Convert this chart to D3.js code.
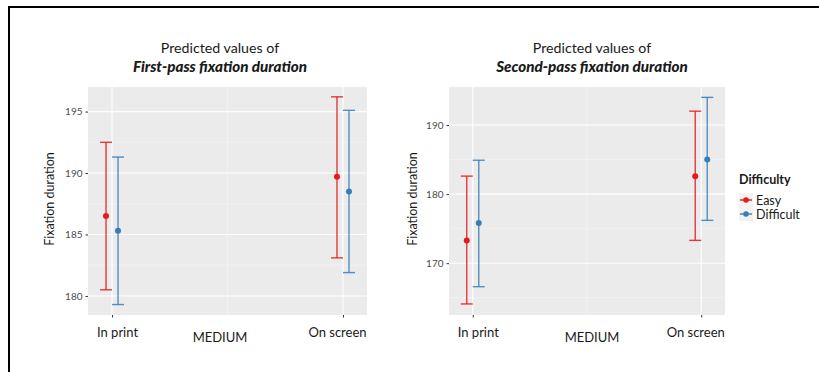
<!DOCTYPE html>
<html>
<head>
<meta charset="utf-8">
<script src="https://cdn.jsdelivr.net/npm/d3@7"></script>
<style>
  body { margin: 0; background: #fff; }
  text { font-family: Lato, "Open Sans", sans-serif; }
</style>
</head>
<body>
<div id="chart"></div>
<script>
// categories
const medium = ["In print", "On screen"];
const difficulty = ["Easy", "Difficult"];
const colors = ["#e41a1c", "#377eb8"];

// First-pass fixation duration (estimate, low, high), one value per medium
const fpEasyMean = [186.5, 189.7];
const fpEasyLow  = [180.5, 183.1];
const fpEasyHigh = [192.5, 196.2];
const fpDiffMean = [185.3, 188.5];
const fpDiffLow  = [179.3, 181.9];
const fpDiffHigh = [191.3, 195.1];

// Second-pass fixation duration
const spEasyMean = [173.3, 182.6];
const spEasyLow  = [164.1, 173.3];
const spEasyHigh = [182.6, 192.0];
const spDiffMean = [175.8, 185.0];
const spDiffLow  = [166.6, 176.2];
const spDiffHigh = [184.9, 194.0];

// axis ticks
const fpTicks = [180, 185, 190, 195];
const fpMinor = [182.5, 187.5, 192.5];
const fpDomain = [178.45, 197.0];
const spTicks = [170, 180, 190];
const spMinor = [165, 175, 185];
const spDomain = [162.5, 195.5];

const W = 819, H = 372;

const svg = d3.select("#chart")
    .append("svg")
    .attr("width", W)
    .attr("height", H);

// frame around the figure
svg.append("rect")
    .attr("x", 9)
    .attr("y", 7)
    .attr("width", W + 20)
    .attr("height", H + 20)
    .attr("fill", "none")
    .attr("stroke", "#000")
    .attr("stroke-width", 2);

function buildSeries(easy, diff) {
    return [
        medium.map((m, i) => ({ medium: m, group: 0, mean: easy[0][i], low: easy[1][i], high: easy[2][i] })),
        medium.map((m, i) => ({ medium: m, group: 1, mean: diff[0][i], low: diff[1][i], high: diff[2][i] }))
    ].flat();
}

function drawPanel(opts) {
    const g = svg.append("g");
    const x = d3.scalePoint().domain(medium).range([opts.left, opts.right]).padding(0.104);
    const y = d3.scaleLinear().domain(opts.domain).range([opts.bottom, opts.top]);

    // panel background
    g.append("rect")
        .attr("x", opts.left)
        .attr("y", opts.top)
        .attr("width", opts.right - opts.left)
        .attr("height", opts.bottom - opts.top)
        .attr("fill", "#ebebeb");

    // minor grid
    g.selectAll(".ygmin").data(opts.minor).enter().append("line")
        .attr("x1", opts.left).attr("x2", opts.right)
        .attr("y1", d => y(d)).attr("y2", d => y(d))
        .attr("stroke", "#f5f5f5").attr("stroke-width", 0.6);
    g.append("line")
        .attr("x1", (x(medium[0]) + x(medium[1])) / 2)
        .attr("x2", (x(medium[0]) + x(medium[1])) / 2)
        .attr("y1", opts.top).attr("y2", opts.bottom)
        .attr("stroke", "#f5f5f5").attr("stroke-width", 0.6);

    // major grid
    g.selectAll(".ygmaj").data(opts.ticks).enter().append("line")
        .attr("x1", opts.left).attr("x2", opts.right)
        .attr("y1", d => y(d)).attr("y2", d => y(d))
        .attr("stroke", "#fff").attr("stroke-width", 1.1);
    g.selectAll(".xgmaj").data(medium).enter().append("line")
        .attr("x1", d => x(d)).attr("x2", d => x(d))
        .attr("y1", opts.top).attr("y2", opts.bottom)
        .attr("stroke", "#fff").attr("stroke-width", 1.1);

    // y axis
    const yAxis = d3.axisLeft(y).tickValues(opts.ticks).tickSize(2.5).tickPadding(3);
    const ya = g.append("g")
        .attr("transform", "translate(" + opts.left + ",0)")
        .call(yAxis);
    ya.select(".domain").remove();
    ya.selectAll("line").attr("stroke", "#333");
    ya.selectAll("text")
        .attr("fill", "#4d4d4d")
        .style("font-size", "10px");

    // x axis
    const xAxis = d3.axisBottom(x).tickSize(2.5).tickPadding(10);
    const xa = g.append("g")
        .attr("transform", "translate(0," + opts.bottom + ")")
        .call(xAxis);
    xa.select(".domain").remove();
    xa.selectAll("line").attr("stroke", "#333");
    xa.selectAll("text")
        .attr("fill", "#1a1a1a")
        .attr("dx", (d, i) => i === 0 ? 5 : -6)
        .style("font-size", "13px");

    // axis titles
    g.append("text")
        .attr("x", opts.titleX)
        .attr("y", 342)
        .attr("text-anchor", "middle")
        .style("font-size", "13px")
        .attr("fill", "#1a1a1a")
        .text("MEDIUM");

    g.append("text")
        .attr("transform", "translate(" + opts.yTitleX + "," + ((opts.top + opts.bottom) / 2 - 2) + ") rotate(-90)")
        .attr("text-anchor", "middle")
        .style("font-size", "12.5px")
        .attr("fill", "#1a1a1a")
        .text("Fixation duration");

    // title
    g.append("text")
        .attr("x", opts.titleX)
        .attr("y", 53)
        .attr("text-anchor", "middle")
        .style("font-size", "14.2px")
        .attr("fill", "#1a1a1a")
        .text("Predicted values of");
    g.append("text")
        .attr("x", opts.titleX)
        .attr("y", 72)
        .attr("text-anchor", "middle")
        .style("font-size", "15.2px")
        .style("font-weight", "900")
        .style("font-style", "italic")
        .attr("fill", "#1a1a1a")
        .text(opts.title);

    // error bars
    const dodge = 6, cap = 6;
    const data = opts.data;
    const px = d => x(d.medium) + (d.group === 0 ? -dodge : dodge);

    const bars = g.selectAll(".err").data(data).enter().append("g")
        .attr("stroke", d => colors[d.group])
        .attr("stroke-width", 1.4)
        .attr("stroke-opacity", 0.85);
    bars.append("line")
        .attr("x1", px).attr("x2", px)
        .attr("y1", d => y(d.low)).attr("y2", d => y(d.high));
    bars.append("line")
        .attr("x1", d => px(d) - cap).attr("x2", d => px(d) + cap)
        .attr("y1", d => y(d.low)).attr("y2", d => y(d.low));
    bars.append("line")
        .attr("x1", d => px(d) - cap).attr("x2", d => px(d) + cap)
        .attr("y1", d => y(d.high)).attr("y2", d => y(d.high));

    g.selectAll(".pt").data(data).enter().append("circle")
        .attr("cx", px)
        .attr("cy", d => y(d.mean))
        .attr("r", 3)
        .attr("fill", d => colors[d.group]);
}

drawPanel({
    left: 88, right: 367, top: 87, bottom: 315,
    domain: fpDomain, ticks: fpTicks, minor: fpMinor,
    titleX: 220, yTitleX: 54,
    title: "First-pass fixation duration",
    data: buildSeries([fpEasyMean, fpEasyLow, fpEasyHigh], [fpDiffMean, fpDiffLow, fpDiffHigh])
});

drawPanel({
    left: 449, right: 725, top: 87, bottom: 315,
    domain: spDomain, ticks: spTicks, minor: spMinor,
    titleX: 592, yTitleX: 417,
    title: "Second-pass fixation duration",
    data: buildSeries([spEasyMean, spEasyLow, spEasyHigh], [spDiffMean, spDiffLow, spDiffHigh])
});

// legend
const legend = svg.append("g").attr("transform", "translate(739,0)");
legend.append("text")
    .attr("x", 0).attr("y", 184)
    .style("font-size", "12.5px")
    .style("font-weight", "bold")
    .attr("fill", "#1a1a1a")
    .text("Difficulty");

const items = legend.selectAll(".item").data(difficulty).enter().append("g")
    .attr("transform", (d, i) => "translate(0," + (200 + i * 14) + ")");
items.append("rect")
    .attr("x", 0).attr("y", -7).attr("width", 14).attr("height", 14)
    .attr("fill", "#f2f2f2");
items.append("line")
    .attr("x1", 1).attr("x2", 13).attr("y1", 0).attr("y2", 0)
    .attr("stroke", (d, i) => colors[i]).attr("stroke-width", 1.4);
items.append("circle")
    .attr("cx", 7).attr("cy", 0).attr("r", 2.8)
    .attr("fill", (d, i) => colors[i]);
items.append("text")
    .attr("x", 17).attr("y", 4.5)
    .style("font-size", "12.5px")
    .attr("fill", "#1a1a1a")
    .text(d => d);
</script>
</body>
</html>
